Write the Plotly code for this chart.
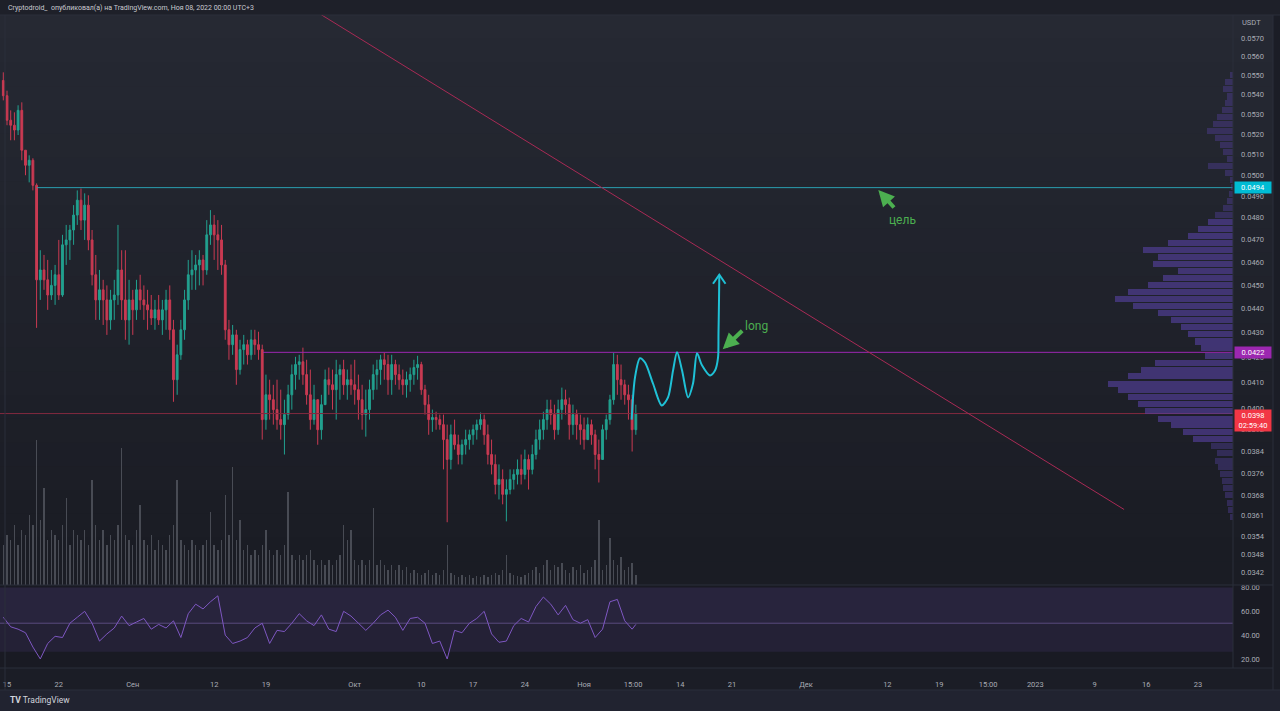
import numpy as np
import pandas as pd
import plotly.graph_objects as go

# ---------------- data (prices in units of 1e-5 USDT) ----------------
SCALE = 1e-5
first_open = 5473
highs = [5516,5420,5319,5309,5345,5360,5120,5095,5081,4960,
         4653,4632,4610,4566,4588,4699,4722,4767,4767,4858,
         4927,4936,4913,4904,4744,4632,4566,4523,4499,4480,
         4523,4767,4653,4653,4523,4480,4523,4545,4499,4480,
         4458,4437,4458,4437,4480,4499,4353,4251,4353,4480,
         4610,4653,4632,4653,4632,4789,4835,4812,4789,4767,
         4610,4353,4332,4312,4271,4291,4271,4312,4312,4304,
         4251,4131,4111,4091,4111,4072,4033,4091,4171,4202,
         4210,4239,4190,4151,4091,4033,4052,4151,4159,4151,
         4190,4171,4190,4151,4171,4190,4131,4091,4072,4111,
         4171,4190,4210,4218,4210,4210,4190,4171,4151,4143,
         4159,4190,4206,4182,4091,4052,3995,3987,3976,3976,
         3938,3938,3957,3900,3882,3919,3919,3938,3957,3984,
         3976,3938,3882,3827,3791,3773,3737,3773,3773,3809,
         3827,3845,3827,3863,3919,3957,3987,4033,4033,4014,
         4033,4080,4072,4041,4014,3995,3976,3965,3965,3957,
         3919,3882,3938,3976,4052,4218,4210,4171,4111,4091,
         4052,4014]
lows = [5370,5244,5169,5169,5195,5071,4999,4965,4927,4320,
        4437,4480,4395,4437,4416,4437,4450,4588,4610,4677,
        4767,4744,4699,4653,4499,4353,4353,4332,4291,4312,
        4353,4416,4353,4271,4251,4291,4353,4395,4353,4312,
        4332,4312,4332,4291,4312,4271,4025,4052,4190,4271,
        4395,4480,4480,4499,4499,4545,4677,4610,4566,4545,
        4271,4190,4210,4091,4131,4171,4171,4190,4210,4190,
        3882,3919,3957,3938,3919,3882,3827,3957,3995,4072,
        4111,4091,4014,3919,3938,3863,3882,4014,4052,3995,
        3957,4033,4052,4033,4052,4014,3957,3919,3893,3957,
        4033,4072,4091,4111,4052,4052,4091,4072,4052,4041,
        4064,4091,4111,4052,3976,3900,3911,3919,3919,3773,
        3587,3773,3845,3791,3791,3827,3845,3863,3882,3919,
        3863,3791,3755,3684,3666,3649,3590,3684,3701,3719,
        3719,3737,3701,3755,3809,3845,3882,3919,3938,3882,
        3900,3957,3976,3882,3900,3882,3863,3845,3882,3863,
        3773,3726,3809,3882,3938,4014,4052,4033,4014,3957,
        3838,3900]
closes = [5394,5269,5244,5220,5319,5120,5047,5071,4951,4523,
          4566,4523,4458,4499,4545,4458,4677,4699,4744,4812,
          4881,4789,4858,4699,4545,4437,4480,4437,4353,4437,
          4458,4566,4437,4353,4437,4395,4480,4437,4416,4395,
          4361,4395,4353,4395,4437,4312,4111,4210,4312,4437,
          4545,4566,4588,4610,4566,4722,4767,4722,4699,4588,
          4312,4251,4291,4151,4231,4251,4210,4271,4251,4231,
          3957,4052,4033,3995,3957,3938,3976,4052,4131,4171,
          4182,4131,4052,3957,4033,3919,4014,4111,4091,4072,
          4131,4151,4091,4111,4091,4072,4033,3976,3995,4072,
          4131,4151,4190,4171,4111,4171,4131,4111,4091,4111,
          4131,4159,4171,4072,4014,3957,3965,3957,3938,3882,
          3809,3900,3863,3827,3863,3882,3900,3919,3938,3957,
          3900,3827,3791,3719,3737,3684,3701,3737,3755,3773,
          3755,3809,3773,3827,3882,3919,3957,3995,3976,3919,
          3995,4033,4014,3938,3976,3938,3919,3882,3938,3900,
          3827,3809,3919,3957,4033,4171,4111,4091,4052,4033,
          3919,3980]
volumes = [40,50,45,60,40,55,50,70,60,145,
           65,97,45,55,50,45,60,87,40,55,
           50,45,55,40,105,60,45,55,40,50,
           45,60,137,50,45,40,55,80,45,40,
           50,35,45,40,35,50,60,105,45,40,
           35,45,40,35,40,45,73,40,35,45,
           90,50,118,45,65,35,40,30,35,30,
           40,55,35,30,35,30,40,93,30,25,
           30,25,30,35,25,20,25,20,25,20,
           25,30,60,45,55,25,20,25,20,25,
           77,20,25,20,15,20,15,20,15,18,
           12,15,12,10,12,15,10,12,10,15,
           40,12,10,8,10,8,10,7,9,8,
           10,8,10,12,10,15,30,12,10,9,
           8,10,12,15,18,12,20,25,15,20,
           18,22,15,12,18,15,20,12,15,18,
           25,65,15,20,47,25,20,28,15,18,
           22,10]
rsi_values = [55,47,45,42,30,20,33,39,38,50,
              55,60,50,35,41,46,56,48,51,54,
              45,49,46,52,38,58,66,62,68,73,
              40,33,35,38,46,50,33,44,43,50,
              58,52,48,57,45,43,60,56,50,44,
              50,57,61,55,44,54,55,50,33,35,
              20,44,42,50,54,60,41,34,35,48,
              54,51,64,72,66,57,65,53,50,53,
              38,45,68,70,52,45,49]
profile_levels = [5500,5463,5427,5390,5355,5319,5284,5248,5213,5179,
                  5144,5110,5076,5042,5008,4975,4943,4910,4877,4844,
                  4812,4780,4748,4716,4684,4653,4622,4591,4560,4530,
                  4499,4469,4439,4410,4380,4351,4322,4293,4264,4236,
                  4207,4179,4151,4124,4096,4069,4042,4015,3988,3961,
                  3935,3909,3883,3857,3831,3805,3780,3755,3730,3705,
                  3680,3655,3630,3606]
profile_volume = [3,8,10,6,8,11,16,20,26,18,
                  13,10,6,25,8,3,2,4,6,10,
                  18,25,35,45,65,90,75,80,55,70,
                  85,105,118,100,75,62,52,45,38,32,
                  28,78,92,105,125,115,105,95,88,75,
                  62,50,40,22,16,18,15,13,11,10,
                  8,6,5,3]

price_ticks = [0.0570,0.0560,0.0550,0.0540,0.0530,0.0520,0.0510,0.0500,0.0490,0.0480,
               0.0470,0.0460,0.0450,0.0440,0.0430,0.0420,0.0410,0.0400,0.0392,0.0384,
               0.0376,0.0368,0.0361,0.0354,0.0348,0.0342]
rsi_ticks = [20, 40, 60, 80]
time_tick_dates = ["2022-08-15","2022-08-22","2022-09-01","2022-09-12","2022-09-19",
                   "2022-10-01","2022-10-10","2022-10-17","2022-10-24","2022-11-01",
                   "2022-11-07 15:00","2022-11-14","2022-11-21","2022-12-01","2022-12-12",
                   "2022-12-19","2022-12-25 15:00","2023-01-01","2023-01-09","2023-01-16",
                   "2023-01-23"]
time_tick_labels = ["15","22","Сен","12","19","Окт","10","17","24","Ноя","15:00","14","21",
                    "Дек","12","19","15:00","2023","9","16","23"]

target_level = 0.0494
target_start = "2022-08-19 01:30"
resistance_level = 0.0422
resistance_start = "2022-09-18 14:30"
last_price = 0.0398
trend_dates = ["2022-09-23 14:30", "2023-01-13 00:00"]
trend_prices = [0.05902, 0.03631]
proj_dates = ["2022-11-07 10:30","2022-11-07 21:20","2022-11-08 13:30","2022-11-09 05:50",
              "2022-11-10 07:40","2022-11-11 12:00","2022-11-12 08:25","2022-11-13 00:40",
              "2022-11-13 13:40","2022-11-14 06:00","2022-11-15 01:30","2022-11-15 17:30",
              "2022-11-16 06:30","2022-11-16 22:35","2022-11-18 00:40","2022-11-18 16:50",
              "2022-11-19 02:40","2022-11-19 04:10","2022-11-19 05:50","2022-11-19 06:45"]
proj_prices = [0.03957,0.04120,0.04196,0.04179,0.04096,0.04011,0.04042,0.04147,
               0.04220,0.04147,0.04042,0.04096,0.04216,0.04168,0.04128,0.04147,
               0.04199,0.04297,0.04437,0.04545]
head_dates = ["2022-11-18 10:20", "2022-11-19 06:45", "2022-11-20 02:55"]
head_prices = [0.04506, 0.04545, 0.04506]

# ---------------- derived series ----------------
times = pd.date_range("2022-08-14 12:00", periods=len(closes), freq="12h")
o = np.array([first_open] + closes[:-1]) * SCALE
h = np.array(highs) * SCALE
l = np.array(lows) * SCALE
c = np.array(closes) * SCALE
rsi_times = list(times[::2]) + [times[-1]]
prof_prices = np.array(profile_levels) * SCALE

PRICE_LO, PRICE_HI = 0.03378, 0.05827
X_START, X_END = "2022-08-14 01:17", "2023-01-27 17:17"
W, H = 1280, 711
ML, MR, MT, MB = 0, 47, 15, 43
PH = H - MT - MB
PW = W - ML - MR
SPLIT = (668 - 585) / PH

def py(ypx):
    return (668 - ypx) / PH

def px(xpx):
    return xpx / PW

TXT = "#a9acb5"
FONT = "Roboto"
TS = 7.5

fig = go.Figure()

# background gradient for main pane
n = 24
for k in range(n):
    t = k / (n - 1)
    r = int(38 + (26 - 38) * t); g = int(41 + (28 - 41) * t); b = int(51 + (36 - 51) * t)
    y0 = 15 + (585 - 15) * k / n
    y1 = 15 + (585 - 15) * (k + 1) / n
    fig.add_shape(type="rect", xref="paper", yref="paper", x0=px(0), x1=px(1273),
                  y0=py(y1) - 0.001, y1=py(y0), fillcolor=f"rgb({r},{g},{b})",
                  line_width=0, layer="below")
# RSI pane background
fig.add_shape(type="rect", xref="paper", yref="paper", x0=px(0), x1=px(1273), y0=py(668), y1=py(585),
              fillcolor="#191a23", line_width=0, layer="below")
# header and footer
fig.add_shape(type="rect", xref="paper", yref="paper", x0=px(0), x1=px(1280), y0=py(15), y1=py(0),
              fillcolor="#1e2029", line_width=0, layer="below")
fig.add_shape(type="rect", xref="paper", yref="paper", x0=px(0), x1=px(1280), y0=py(711), y1=py(690),
              fillcolor="#212330", line_width=0, layer="below")
# RSI band
fig.add_shape(type="rect", xref="paper", yref="y2", x0=0, x1=1, y0=26, y1=80,
              fillcolor="rgba(126,87,194,0.12)", line_width=0, layer="below")
fig.add_shape(type="rect", xref="paper", yref="y2", x0=0, x1=1, y0=50, y1=80,
              fillcolor="rgba(126,87,194,0.06)", line_width=0, layer="below")
fig.add_shape(type="line", xref="paper", yref="y2", x0=0, x1=1, y0=50, y1=50,
              line=dict(color="rgba(150,125,210,0.45)", width=1), layer="below")

# volume
fig.add_trace(go.Bar(x=times, y=volumes, xaxis="x", yaxis="y3", width=16e6,
                     marker=dict(color="rgba(118,121,132,0.5)", line_width=0), hoverinfo="skip"))
# volume profile
va = [(p > 0.0386 and p < 0.0481) for p in prof_prices]
prof_colors = ["rgba(86,64,160,0.62)" if v else "rgba(86,64,160,0.4)" for v in va]
fig.add_trace(go.Bar(x=profile_volume, y=np.log10(prof_prices), orientation="h", xaxis="x2", yaxis="y4",
                     width=0.0025, marker=dict(color=prof_colors, line_width=0), hoverinfo="skip"))
# candles
fig.add_trace(go.Candlestick(x=times, open=o, high=h, low=l, close=c, xaxis="x", yaxis="y",
                             increasing=dict(line=dict(color="#22a08f", width=1), fillcolor="#22a08f"),
                             decreasing=dict(line=dict(color="#c93a52", width=1), fillcolor="#c93a52"),
                             whiskerwidth=0, hoverinfo="skip"))
# horizontal levels
fig.add_trace(go.Scatter(x=[X_START, "2023-02-05"], y=[last_price, last_price], mode="lines",
                         line=dict(color="#82293e", width=1), xaxis="x", yaxis="y", hoverinfo="skip"))
fig.add_trace(go.Scatter(x=[target_start, "2023-02-05"], y=[target_level, target_level], mode="lines",
                         line=dict(color="#2a9fb0", width=1), xaxis="x", yaxis="y", hoverinfo="skip"))
fig.add_trace(go.Scatter(x=[resistance_start, "2023-02-05"], y=[resistance_level, resistance_level], mode="lines",
                         line=dict(color="#9c27b0", width=1), xaxis="x", yaxis="y", hoverinfo="skip"))
# trend line
fig.add_trace(go.Scatter(x=trend_dates, y=trend_prices, mode="lines",
                         line=dict(color="#a82a55", width=1), xaxis="x", yaxis="y", hoverinfo="skip"))
# projected path
fig.add_trace(go.Scatter(x=proj_dates, y=proj_prices, mode="lines",
                         line=dict(color="#1fc1d6", width=2, shape="spline", smoothing=0.8),
                         xaxis="x", yaxis="y", hoverinfo="skip"))
fig.add_trace(go.Scatter(x=head_dates, y=head_prices, mode="lines",
                         line=dict(color="#1fc1d6", width=2), xaxis="x", yaxis="y", hoverinfo="skip"))
# RSI
fig.add_trace(go.Scatter(x=rsi_times, y=rsi_values, mode="lines", line=dict(color="#7e57c2", width=1),
                         xaxis="x", yaxis="y2", hoverinfo="skip"))

# separators
for (x0, y0, x1, y1) in [(0, 15, 1280, 15), (0, 585, 1273, 585), (0, 668, 1273, 668), (0, 690, 1280, 690),
                         (1233, 15, 1233, 668), (1273, 15, 1273, 690), (5, 15, 5, 690)]:
    fig.add_shape(type="line", xref="paper", yref="paper", x0=px(x0), x1=px(x1), y0=py(y0), y1=py(y1),
                  line=dict(color="#2b2e3a", width=1), layer="above")

ann = []
ann.append(dict(xref="paper", yref="paper", x=px(6), y=py(8), xanchor="left", yanchor="middle",
                text="Cryptodroid_  опубликовал(а) на TradingView.com, Ноя 08, 2022 00:00 UTC+3",
                showarrow=False, font=dict(family=FONT, size=7, color="#c8cad0")))
ann.append(dict(xref="paper", yref="paper", x=px(1240), y=py(23), xanchor="left", yanchor="middle",
                text="USDT", showarrow=False, font=dict(family=FONT, size=TS, color=TXT)))
ann.append(dict(xref="paper", yref="paper", x=px(8), y=py(700), xanchor="left", yanchor="middle",
                text="<b>TV</b> TradingView", showarrow=False, font=dict(family=FONT, size=8.5, color="#d1d4dc")))
# price boxes
ann.append(dict(xref="paper", yref="y", x=1, y=np.log10(target_level), xanchor="left", xshift=1,
                text="0.0494", showarrow=False, bgcolor="#00bcd4", width=34, height=9, align="center",
                borderpad=1, font=dict(family=FONT, size=TS, color="#ffffff")))
ann.append(dict(xref="paper", yref="y", x=1, y=np.log10(resistance_level), xanchor="left", xshift=1,
                text="0.0422", showarrow=False, bgcolor="#9c27b0", width=34, height=9, align="center",
                borderpad=1, font=dict(family=FONT, size=TS, color="#ffffff")))
ann.append(dict(xref="paper", yref="y", x=1, y=np.log10(last_price), xanchor="left", yanchor="top", xshift=1,
                yshift=5, text="0.0398<br>02:59:40", showarrow=False, bgcolor="#f23645", width=34,
                align="center", borderpad=1, font=dict(family=FONT, size=TS, color="#ffffff")))
# green arrows + text
ann.append(dict(xref="x", yref="y", x="2022-11-19 17:50", y=-1.37343, ax=21, ay=-20, showarrow=True,
                arrowhead=2, arrowsize=0.8, arrowwidth=4, arrowcolor="#4caf50", text=""))
ann.append(dict(xref="x", yref="y", x="2022-11-24 09:00", y=-1.36375, text="long", showarrow=False,
                font=dict(family=FONT, size=12, color="#4caf50")))
ann.append(dict(xref="x", yref="y", x="2022-12-10 18:40", y=-1.30725, ax=17, ay=19, showarrow=True,
                arrowhead=2, arrowsize=0.8, arrowwidth=4, arrowcolor="#4caf50", text=""))
ann.append(dict(xref="x", yref="y", x="2022-12-14 02:40", y=-1.31971, text="цель", showarrow=False,
                font=dict(family=FONT, size=12, color="#4caf50")))

fig.update_layout(
    width=W, height=H, margin=dict(l=ML, r=MR, t=MT, b=MB),
    paper_bgcolor="#1b1d26", plot_bgcolor="rgba(0,0,0,0)",
    showlegend=False, bargap=0, dragmode=False,
    annotations=ann,
    xaxis=dict(domain=[0, 1], anchor="y2", type="date", range=[X_START, X_END],
               tickvals=time_tick_dates, ticktext=time_tick_labels, ticks="", showgrid=False,
               zeroline=False, showline=False, rangeslider=dict(visible=False),
               tickfont=dict(family=FONT, size=TS, color=TXT), ticklabelstandoff=10),
    xaxis2=dict(overlaying="x", range=[PW, 0], visible=False, anchor="y4"),
    yaxis=dict(domain=[SPLIT, 1], anchor="x", type="log", side="right",
               range=[np.log10(PRICE_LO), np.log10(PRICE_HI)],
               tickvals=price_ticks, ticktext=[f"{v:.4f}" for v in price_ticks], ticks="",
               showgrid=False, zeroline=False, showline=False,
               tickfont=dict(family=FONT, size=TS, color=TXT), ticklabelstandoff=7),
    yaxis2=dict(domain=[0, SPLIT], anchor="x", side="right", range=[12.4, 82.1],
                tickvals=rsi_ticks, ticktext=[f"{v:.2f}" for v in rsi_ticks], ticks="",
                showgrid=False, zeroline=False, showline=False,
                tickfont=dict(family=FONT, size=TS, color=TXT), ticklabelstandoff=7),
    yaxis3=dict(overlaying="y", range=[0, 570], visible=False),
    yaxis4=dict(overlaying="y", range=[np.log10(PRICE_LO), np.log10(PRICE_HI)], visible=False),
)

fig.write_html("out.html")
